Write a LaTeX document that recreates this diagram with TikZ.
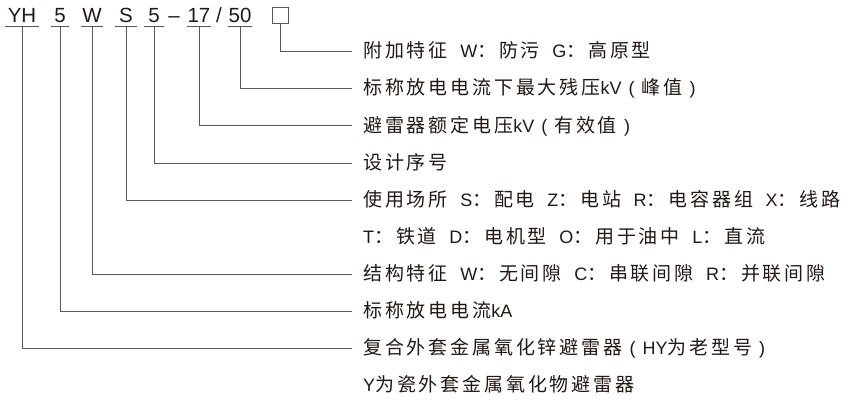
\documentclass[tikz,border=0pt]{standalone}
\usepackage{fontspec}
\setmainfont{Noto Sans CJK SC}[LetterSpace=15]
\newfontfamily\codefont{Liberation Sans}
\newfontfamily\latfont{Liberation Sans}
\newcommand\ltn[1]{{\latfont\fontsize{18}{18}\selectfont #1}}
\newcommand\gp{\hspace{12.5pt}}
\newcommand\ps{\hspace{7pt}}
\definecolor{txtc}{HTML}{231815}
\definecolor{linec}{HTML}{595757}
\begin{document}
\begin{tikzpicture}[x=1pt,y=-1pt,
  ln/.style={draw=linec, line width=1pt},
  code/.style={anchor=base, inner sep=0pt, text depth=4pt, font=\codefont\fontsize{20.5}{20.5}\selectfont, text=txtc},
  lbl/.style={anchor=west, inner sep=0pt, text height=14pt, text depth=2pt, font=\fontsize{19}{19}\selectfont, text=txtc}]
\useasboundingbox[fill=white] (0,0) rectangle (856,401);
% code row
\node[code, minimum width=33pt] (cYH) at (22,22.5) {YH};
\node[code, minimum width=17pt] (c5a) at (60,22.5) {5};
\node[code, minimum width=22pt] (cW) at (92,22.5) {W};
\node[code, minimum width=21pt] (cS) at (126,22.5) {S};
\node[code, minimum width=20pt] (c5b) at (154,22.5) {5};
\node[code] (cdash) at (174,22.5) {–};
\node[code, minimum width=24pt] (c17) at (199,22.5) {17};
\node[code] (cslash) at (219,22.5) {/};
\node[code, minimum width=24pt] (c50) at (240,22.5) {50};
\node[draw=linec, line width=1pt, minimum size=15.5pt, inner sep=0pt] (cbox) at (280.5,15.5) {};
\foreach \n in {cYH,c5a,cW,cS,c5b,c17,c50}
  \draw[ln] (\n.south west) -- (\n.south east);
% labels
\node[lbl] (t1) at (363,52) {附加特征\gp\ltn{W}：防污\gp\ltn{G}：高原型};
\node[lbl] (t2) at (363,89) {标称放电电流下最大残压\ltn{kV\ps(\ps}峰值\ltn{\ps)}};
\node[lbl] (t3) at (363,126) {避雷器额定电压\ltn{kV\ps(\ps}有效值\ltn{\ps)}};
\node[lbl] (t4) at (363,163) {设计序号};
\node[lbl] (t5) at (363,200) {使用场所\gp\ltn{S}：配电\gp\ltn{Z}：电站\gp\ltn{R}：电容器组\gp\ltn{X}：线路};
\node[lbl] (t6) at (363,237) {\ltn{T}：铁道\gp\ltn{D}：电机型\gp\ltn{O}：用于油中\gp\ltn{L}：直流};
\node[lbl] (t7) at (363,274) {结构特征\gp\ltn{W}：无间隙\gp\ltn{C}：串联间隙\gp\ltn{R}：并联间隙};
\node[lbl] (t8) at (363,311) {标称放电电流\ltn{kA}};
\node[lbl] (t9) at (363,348) {复合外套金属氧化锌避雷器\ltn{\ps(\ps HY}为老型号\ltn{\ps)}};
\node[lbl] (t10) at (363,385) {\ltn{Y}为瓷外套金属氧化物避雷器};
% connectors
\draw[ln] (cbox.south) |- ([xshift=-11pt]t1.west);
\draw[ln] (c50.south) |- ([xshift=-11pt]t2.west);
\draw[ln] (c17.south) |- ([xshift=-11pt]t3.west);
\draw[ln] (c5b.south) |- ([xshift=-11pt]t4.west);
\draw[ln] (cS.south) |- ([xshift=-11pt]t5.west);
\draw[ln] (cW.south) |- ([xshift=-11pt]t7.west);
\draw[ln] (c5a.south) |- ([xshift=-11pt]t8.west);
\draw[ln] (cYH.south) |- ([xshift=-11pt]t9.west);
\end{tikzpicture}
\end{document}
